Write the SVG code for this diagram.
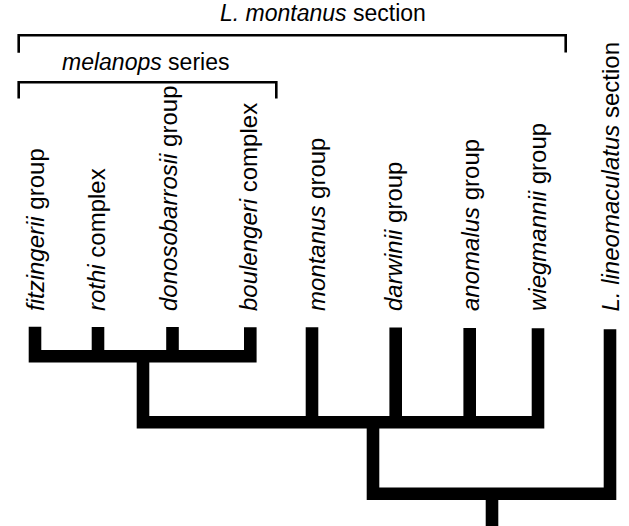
<svg xmlns="http://www.w3.org/2000/svg" width="629" height="526" viewBox="0 0 629 526">
<style>
text{font-family:"Liberation Sans",Arial,Helvetica,sans-serif;font-size:23px;fill:#000}
.v{font-size:24px}
.i{font-style:italic}
.br{fill:none;stroke:#000;stroke-width:2.6;stroke-linejoin:miter;stroke-linecap:butt}
.tr{fill:none;stroke:#000;stroke-width:12.6;stroke-linejoin:miter;stroke-linecap:butt}
</style>
<rect width="629" height="526" fill="#fff"/>
<g id="montanus-section">
<path class="br" d="M18.7 52.7 V35.3 H565.7 V52.5"/>
<text x="220" y="21"><tspan class="i">L. montanus</tspan> section</text>
</g>
<g id="melanops-series">
<path class="br" d="M18.7 98.5 V82.3 H276.3 V98.5"/>
<text x="62" y="70"><tspan class="i">melanops</tspan> series</text>
</g>
<g id="fitzingerii"><text class="v" transform="translate(44,311) rotate(-90)"><tspan class="i">fitzingerii</tspan> group</text></g>
<g id="rothi"><text class="v" transform="translate(105,311) rotate(-90)"><tspan class="i">rothi</tspan> complex</text></g>
<g id="donosobarrosii"><text class="v" transform="translate(176.5,311) rotate(-90)"><tspan class="i">donosobarrosii</tspan> group</text></g>
<g id="boulengeri"><text class="v" transform="translate(256.5,311) rotate(-90)"><tspan class="i">boulengeri</tspan> complex</text></g>
<g id="montanus"><text class="v" transform="translate(325,311) rotate(-90)"><tspan class="i">montanus</tspan> group</text></g>
<g id="darwinii"><text class="v" transform="translate(401.5,311) rotate(-90)"><tspan class="i">darwinii</tspan> group</text></g>
<g id="anomalus"><text class="v" transform="translate(479,311) rotate(-90)"><tspan class="i">anomalus</tspan> group</text></g>
<g id="wiegmannii"><text class="v" transform="translate(546,311) rotate(-90)"><tspan class="i">wiegmannii</tspan> group</text></g>
<g id="lineomaculatus"><text class="v" transform="translate(619,311.5) rotate(-90)"><tspan class="i">L. lineomaculatus</tspan> section</text></g>
<g id="connectors">
<path class="tr" d="M35 326.7 V356.3 H250.3 V327.3"/>
<path class="tr" d="M98 327 V356.3"/>
<path class="tr" d="M172.5 327 V356.3"/>
<path class="tr" d="M143 356.3 V422.2 H538 V328.3"/>
<path class="tr" d="M312 327.3 V422.2"/>
<path class="tr" d="M395.7 327.5 V422.2"/>
<path class="tr" d="M469.7 328 V422.2"/>
<path class="tr" d="M373 422.2 V493.7 H610 V329.3"/>
<path class="tr" d="M492 493.7 V526"/>
</g>
</svg>
